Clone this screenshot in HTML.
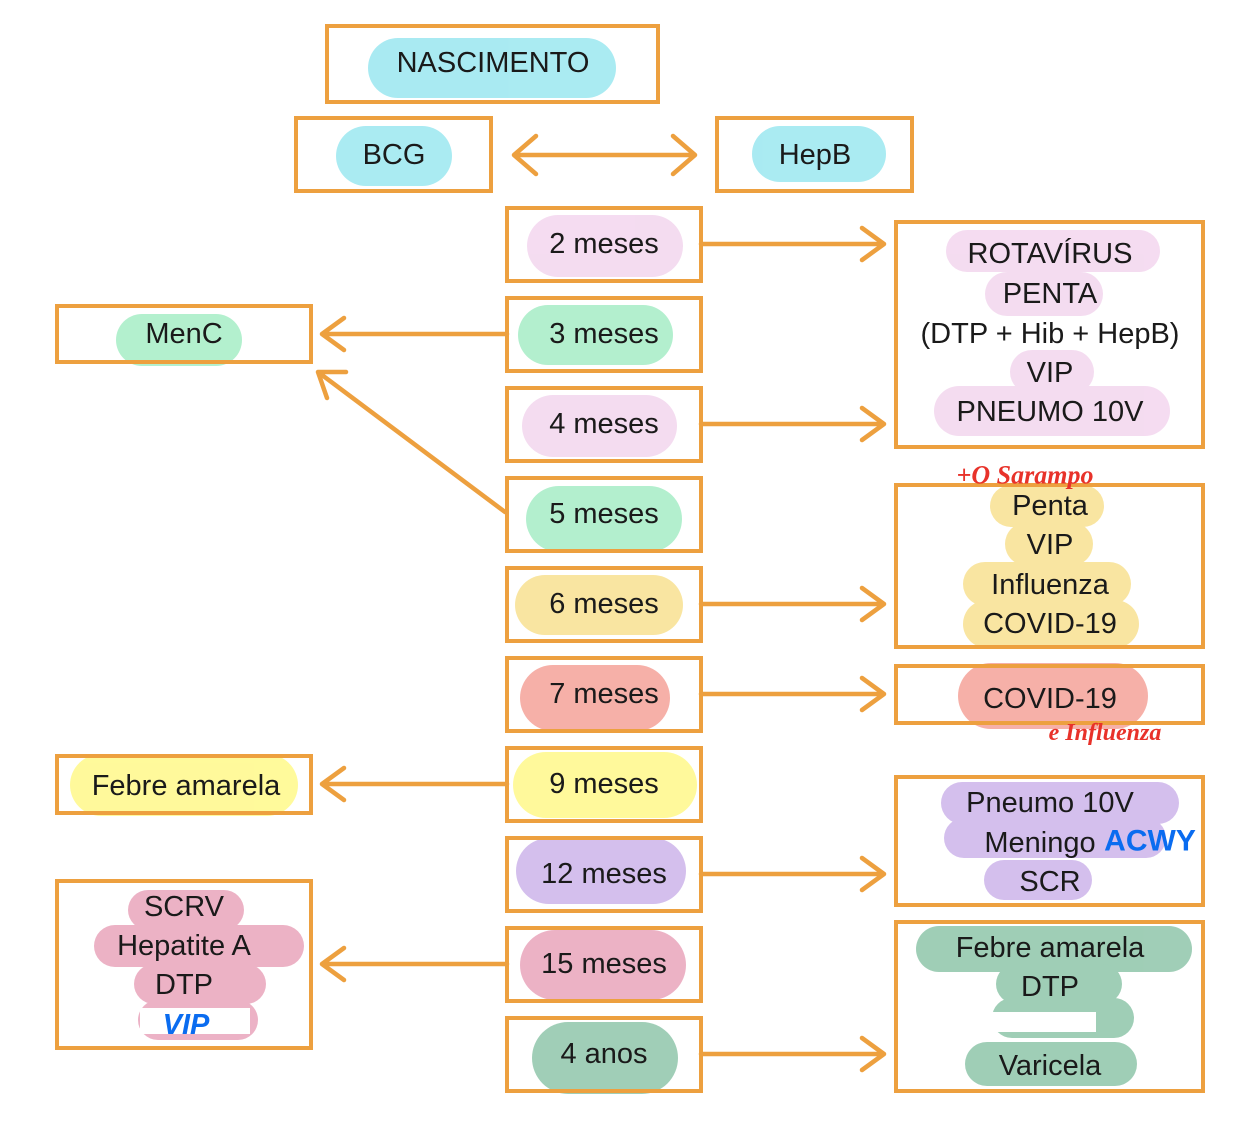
<!DOCTYPE html>
<html><head><meta charset="utf-8"><style>
html,body{margin:0;padding:0;background:#fff;width:1255px;height:1126px;overflow:hidden}
text{font-family:"Liberation Sans",sans-serif;font-size:29px;fill:#1a1a1a;text-anchor:middle;dominant-baseline:central}
.b{fill:none;stroke:#EDA03F;stroke-width:4}
.a{fill:none;stroke:#EDA03F;stroke-width:4.5;stroke-linecap:round;stroke-linejoin:round}
.h{opacity:0.85}
</style></head><body>
<svg width="1255" height="1126" viewBox="0 0 1255 1126" xmlns="http://www.w3.org/2000/svg">
<g class="h">
<rect x="368" y="38" width="248" height="60" rx="30" fill="#9BE7F0"/>
<rect x="336" y="126" width="116" height="60" rx="30" fill="#9BE7F0"/>
<rect x="752" y="126" width="134" height="56" rx="28" fill="#9BE7F0"/>
<rect x="527" y="215" width="156" height="62" rx="31" fill="#F3D6EE"/>
<rect x="518" y="305" width="155" height="60" rx="30" fill="#A6EDC6"/>
<rect x="522" y="395" width="155" height="62" rx="31" fill="#F3D6EE"/>
<rect x="526" y="486" width="156" height="66" rx="33" fill="#A6EDC6"/>
<rect x="515" y="575" width="168" height="60" rx="30" fill="#F8E191"/>
<rect x="520" y="665" width="150" height="66" rx="33" fill="#F5A39A"/>
<rect x="513" y="752" width="184" height="66" rx="33" fill="#FFF98A"/>
<rect x="516" y="838" width="170" height="66" rx="33" fill="#CDB4EA"/>
<rect x="520" y="930" width="166" height="70" rx="35" fill="#E9A5BC"/>
<rect x="532" y="1022" width="146" height="72" rx="36" fill="#8FC6AA"/>
<rect x="116" y="314" width="126" height="52" rx="26" fill="#A6EDC6"/>
<rect x="70" y="754" width="228" height="62" rx="31" fill="#FFF98A"/>
<rect x="128" y="890" width="116" height="40" rx="20" fill="#E9A5BC"/>
<rect x="94" y="925" width="210" height="42" rx="21" fill="#E9A5BC"/>
<rect x="134" y="964" width="132" height="40" rx="20" fill="#E9A5BC"/>
<rect x="138" y="1000" width="120" height="40" rx="20" fill="#E9A5BC"/>
<rect x="946" y="230" width="214" height="42" rx="21" fill="#F3D6EE"/>
<rect x="985" y="272" width="118" height="44" rx="22" fill="#F3D6EE"/>
<rect x="1010" y="350" width="84" height="44" rx="22" fill="#F3D6EE"/>
<rect x="934" y="386" width="236" height="50" rx="25" fill="#F3D6EE"/>
<rect x="990" y="485" width="114" height="42" rx="21" fill="#F8E191"/>
<rect x="1005" y="522" width="88" height="44" rx="22" fill="#F8E191"/>
<rect x="963" y="562" width="168" height="44" rx="22" fill="#F8E191"/>
<rect x="963" y="600" width="176" height="48" rx="24" fill="#F8E191"/>
<rect x="958" y="663" width="190" height="66" rx="33" fill="#F5A39A"/>
<rect x="941" y="782" width="238" height="42" rx="21" fill="#CDB4EA"/>
<rect x="944" y="818" width="222" height="40" rx="20" fill="#CDB4EA"/>
<rect x="984" y="860" width="108" height="40" rx="20" fill="#CDB4EA"/>
<rect x="916" y="926" width="276" height="46" rx="23" fill="#8FC6AA"/>
<rect x="996" y="964" width="126" height="40" rx="20" fill="#8FC6AA"/>
<rect x="992" y="998" width="142" height="40" rx="20" fill="#8FC6AA"/>
<rect x="965" y="1042" width="172" height="44" rx="22" fill="#8FC6AA"/>
</g>
<rect x="992" y="1012" width="104" height="20" fill="#fff"/>
<rect x="140" y="1008" width="110" height="26" fill="#fff"/>
<rect class="b" x="327" y="26" width="331" height="76"/>
<rect class="b" x="296" y="118" width="195" height="73"/>
<rect class="b" x="717" y="118" width="195" height="73"/>
<rect class="b" x="507" y="208" width="194" height="73"/>
<rect class="b" x="507" y="298" width="194" height="73"/>
<rect class="b" x="507" y="388" width="194" height="73"/>
<rect class="b" x="507" y="478" width="194" height="73"/>
<rect class="b" x="507" y="568" width="194" height="73"/>
<rect class="b" x="507" y="658" width="194" height="73"/>
<rect class="b" x="507" y="748" width="194" height="73"/>
<rect class="b" x="507" y="838" width="194" height="73"/>
<rect class="b" x="507" y="928" width="194" height="73"/>
<rect class="b" x="507" y="1018" width="194" height="73"/>
<rect class="b" x="896" y="222" width="307" height="225"/>
<rect class="b" x="896" y="485" width="307" height="162"/>
<rect class="b" x="896" y="666" width="307" height="57"/>
<rect class="b" x="896" y="777" width="307" height="128"/>
<rect class="b" x="896" y="922" width="307" height="169"/>
<rect class="b" x="57" y="306" width="254" height="56"/>
<rect class="b" x="57" y="756" width="254" height="57"/>
<rect class="b" x="57" y="881" width="254" height="167"/>
<path class="a" d="M514 155H695M536 136L514 155L536 174M673 136L695 155L673 174"/>
<path class="a" d="M701 244H884M862 228L884 244L862 260"/>
<path class="a" d="M701 424H884M862 408L884 424L862 440"/>
<path class="a" d="M701 604H884M862 588L884 604L862 620"/>
<path class="a" d="M701 694H884M862 678L884 694L862 710"/>
<path class="a" d="M701 874H884M862 858L884 874L862 890"/>
<path class="a" d="M701 1054H884M862 1038L884 1054L862 1070"/>
<path class="a" d="M507 334H322M344 318L322 334L344 350"/>
<path class="a" d="M507 784H322M344 768L322 784L344 800"/>
<path class="a" d="M507 964H322M344 948L322 964L344 980"/>
<path class="a" d="M505 512L318 372M346 372L318 372L327 398"/>
<text x="493" y="63">NASCIMENTO</text>
<text x="394" y="155">BCG</text>
<text x="815" y="155">HepB</text>
<text x="604" y="244">2 meses</text>
<text x="604" y="334">3 meses</text>
<text x="604" y="424">4 meses</text>
<text x="604" y="514">5 meses</text>
<text x="604" y="604">6 meses</text>
<text x="604" y="694">7 meses</text>
<text x="604" y="784">9 meses</text>
<text x="604" y="874">12 meses</text>
<text x="604" y="964">15 meses</text>
<text x="604" y="1054">4 anos</text>
<text x="184" y="334">MenC</text>
<text x="186" y="786">Febre amarela</text>
<text x="184" y="907">SCRV</text>
<text x="184" y="946">Hepatite A</text>
<text x="184" y="985">DTP</text>
<text x="186" y="1025" style="fill:#0A6CF0;font-weight:bold;font-style:italic">VIP</text>
<text x="1050" y="254">ROTAVÍRUS</text>
<text x="1050" y="294">PENTA</text>
<text x="1050" y="334">(DTP + Hib + HepB)</text>
<text x="1050" y="373">VIP</text>
<text x="1050" y="412">PNEUMO 10V</text>
<text x="1050" y="506">Penta</text>
<text x="1050" y="545">VIP</text>
<text x="1050" y="585">Influenza</text>
<text x="1050" y="624">COVID-19</text>
<text x="1050" y="699">COVID-19</text>
<text x="1050" y="803">Pneumo 10V</text>
<text x="1040" y="843">Meningo</text>
<text x="1050" y="882">SCR</text>
<text x="1050" y="948">Febre amarela</text>
<text x="1050" y="987">DTP</text>
<text x="1050" y="1066">Varicela</text>
<text x="1150" y="841" style="fill:#0A6CF0;font-weight:bold;font-size:30px">ACWY</text>
<text x="1025" y="475" style="fill:#E8322A;font-size:26px;font-weight:bold;font-style:italic;font-family:'Liberation Serif',serif">+O Sarampo</text>
<text x="1105" y="733" style="fill:#E8322A;font-size:24px;font-weight:bold;font-style:italic;font-family:'Liberation Serif',serif">e Influenza</text>
</svg>
</body></html>
